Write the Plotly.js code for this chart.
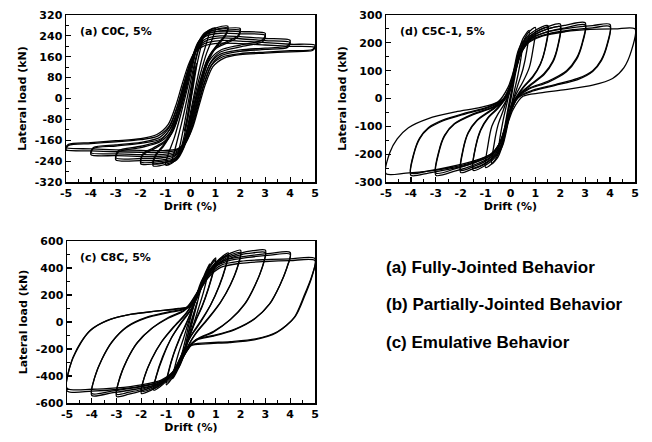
<!DOCTYPE html>
<html><head><meta charset="utf-8">
<script src="https://cdn.plot.ly/plotly-3.0.1.min.js"></script>
<style>html,body{margin:0;padding:0;background:#fff}#chart{width:652px;height:442px}</style>
</head><body><div id="chart"></div>
<script>
// ---- tick values / labels ----
const driftTicks = [-5,-4,-3,-2,-1,0,1,2,3,4,5];
const driftLabels = ['-5','-4','-3','-2','-1','0','1','2','3','4','5'];
const c0cTicks = [-320,-240,-160,-80,0,80,160,240,320];
const c0cLabels = ['-320','-240','-160','-80','0','80','160','240','320'];
const c5cTicks = [-300,-200,-100,0,100,200,300];
const c5cLabels = ['-300','-200','-100','0','100','200','300'];
const c8cTicks = [-600,-400,-200,0,200,400,600];
const c8cLabels = ['-600','-400','-200','0','200','400','600'];

// ---- (a) C0C hysteresis loops: [drift %, load kN] ----
const c0c_d025 = [[-0.25,-125],[-0.15,-80],[-0.05,-20],[0.05,45],[0.15,100],[0.25,135],[0.15,85],[0.05,20],[-0.05,-45],[-0.15,-95],[-0.25,-125]];
const c0c_d05 = [[-0.5,-215],[-0.4,-170],[-0.25,-100],[-0.1,-20],[0.05,60],[0.2,140],[0.35,195],[0.5,228],[0.4,190],[0.25,125],[0.1,40],[-0.05,-40],[-0.2,-120],[-0.35,-180],[-0.5,-215]];
const c0c_d075 = [[-0.75,-243],[-0.65,-205],[-0.45,-130],[-0.25,-50],[-0.05,40],[0.15,130],[0.35,200],[0.55,238],[0.75,255],[0.65,215],[0.45,150],[0.25,65],[0.05,-30],[-0.15,-120],[-0.35,-190],[-0.55,-230],[-0.75,-243]];
const c0c_d1 = [[-1,-255],[-0.9,-215],[-0.65,-150],[-0.4,-65],[-0.15,30],[0.05,110],[0.25,190],[0.5,240],[0.75,262],[1,270],[0.9,235],[0.65,175],[0.4,95],[0.15,0],[-0.05,-90],[-0.25,-170],[-0.5,-225],[-0.75,-248],[-1,-255]];
const c0c_d15 = [[-1.5,-258],[-1.4,-220],[-1.1,-185],[-0.75,-130],[-0.45,-50],[-0.2,40],[0,120],[0.25,200],[0.55,250],[1,270],[1.5,277],[1.4,245],[1.1,210],[0.75,160],[0.45,80],[0.2,-10],[0,-100],[-0.25,-185],[-0.55,-235],[-1,-252],[-1.5,-258]];
const c0c_d15b = [[-1.5,-250],[-1.4,-215],[-1.1,-180],[-0.7,-125],[-0.4,-45],[-0.15,45],[0.05,125],[0.3,205],[0.6,248],[1,264],[1.5,270],[1.4,240],[1.1,205],[0.7,152],[0.4,70],[0.15,-20],[-0.05,-110],[-0.3,-190],[-0.6,-232],[-1,-246],[-1.5,-250]];
const c0c_d2 = [[-2,-250],[-1.9,-215],[-1.5,-195],[-1,-165],[-0.65,-110],[-0.4,-30],[-0.15,60],[0.1,150],[0.35,220],[0.7,255],[1.2,266],[2,268],[1.9,240],[1.5,220],[1,195],[0.65,145],[0.4,70],[0.15,-20],[-0.1,-110],[-0.35,-190],[-0.7,-235],[-1.2,-247],[-2,-250]];
const c0c_d2b = [[-2,-243],[-1.9,-210],[-1.5,-190],[-1,-160],[-0.7,-105],[-0.45,-25],[-0.2,65],[0.05,150],[0.3,215],[0.65,248],[1.2,259],[2,261],[1.9,235],[1.5,214],[1,190],[0.7,140],[0.45,62],[0.2,-28],[-0.05,-115],[-0.3,-192],[-0.65,-230],[-1.2,-241],[-2,-243]];
const c0c_d3 = [[-3,-235],[-2.9,-205],[-2,-188],[-1.2,-165],[-0.75,-120],[-0.45,-45],[-0.2,45],[0.05,135],[0.3,205],[0.65,245],[1.2,258],[2,256],[3,250],[2.9,225],[2,205],[1.2,185],[0.75,145],[0.45,70],[0.2,-15],[-0.05,-105],[-0.3,-180],[-0.65,-222],[-1.2,-236],[-2,-238],[-3,-235]];
const c0c_d3b = [[-3,-228],[-2.9,-200],[-2,-183],[-1.2,-160],[-0.8,-112],[-0.5,-40],[-0.25,50],[0,135],[0.25,200],[0.6,238],[1.2,250],[2,248],[3,242],[2.9,218],[2,198],[1.2,178],[0.8,138],[0.5,62],[0.25,-25],[0,-110],[-0.25,-178],[-0.6,-215],[-1.2,-228],[-2,-230],[-3,-228]];
const c0c_d4 = [[-4,-215],[-3.9,-192],[-3,-182],[-2,-172],[-1.2,-155],[-0.8,-115],[-0.5,-45],[-0.25,40],[0,125],[0.25,190],[0.6,228],[1.2,240],[2,237],[3,230],[4,223],[3.9,202],[3,193],[2,186],[1.2,170],[0.8,135],[0.5,65],[0.25,-20],[0,-110],[-0.25,-175],[-0.6,-210],[-1.2,-222],[-2,-222],[-3,-219],[-4,-215]];
const c0c_d4b = [[-4,-208],[-3.9,-188],[-3,-178],[-2,-168],[-1.25,-150],[-0.85,-110],[-0.55,-40],[-0.3,45],[-0.05,125],[0.2,185],[0.6,220],[1.2,232],[2,229],[3,222],[4,215],[3.9,196],[3,188],[2,181],[1.25,165],[0.85,130],[0.55,55],[0.3,-30],[0.05,-115],[-0.2,-172],[-0.6,-205],[-1.2,-215],[-2,-215],[-3,-212],[-4,-208]];
const c0c_d5 = [[-5,-196],[-4.9,-180],[-4,-173],[-3,-166],[-2,-158],[-1.3,-143],[-0.85,-105],[-0.55,-35],[-0.3,45],[-0.05,125],[0.2,180],[0.55,210],[1.2,222],[2,220],[3,214],[4,208],[5,204],[4.9,188],[4,183],[3,178],[2,172],[1.3,160],[0.85,128],[0.55,60],[0.3,-20],[0.05,-105],[-0.2,-165],[-0.55,-198],[-1.2,-207],[-2,-206],[-3,-204],[-4,-201],[-5,-196]];
const c0c_d5b = [[-5,-188],[-4.9,-176],[-4,-169],[-3,-162],[-2,-154],[-1.35,-138],[-0.9,-100],[-0.6,-30],[-0.35,50],[-0.1,125],[0.15,175],[0.5,200],[1.2,212],[2,210],[3,205],[4,200],[5,196],[4.9,184],[4,179],[3,174],[2,168],[1.35,155],[0.9,122],[0.6,55],[0.35,-25],[0.1,-108],[-0.15,-160],[-0.5,-192],[-1.2,-200],[-2,-199],[-3,-197],[-4,-193],[-5,-188]];

// ---- (d) C5C-1 hysteresis loops ----
const c5c_d025 = [[-0.25,-110],[-0.15,-60],[0,10],[0.15,75],[0.25,115],[0.15,65],[0,-10],[-0.15,-70],[-0.25,-110]];
const c5c_d05 = [[-0.5,-200],[-0.42,-140],[-0.3,-80],[-0.15,-20],[0,40],[0.15,110],[0.3,170],[0.5,205],[0.42,145],[0.3,85],[0.15,25],[0,-40],[-0.15,-110],[-0.3,-165],[-0.5,-200]];
const c5c_d075 = [[-0.75,-235],[-0.65,-160],[-0.5,-95],[-0.3,-45],[-0.1,10],[0.1,80],[0.3,160],[0.5,215],[0.75,245],[0.65,170],[0.5,105],[0.3,50],[0.1,-10],[-0.1,-80],[-0.3,-160],[-0.5,-210],[-0.75,-235]];
const c5c_d1 = [[-1,-248],[-0.9,-165],[-0.75,-100],[-0.5,-55],[-0.25,-20],[0,30],[0.2,110],[0.45,190],[0.7,235],[1,255],[0.9,175],[0.75,110],[0.5,60],[0.25,20],[0,-30],[-0.2,-110],[-0.45,-190],[-0.7,-230],[-1,-248]];
const c5c_d15 = [[-1.5,-258],[-1.4,-175],[-1.2,-115],[-0.9,-70],[-0.5,-35],[-0.2,0],[0.05,60],[0.3,150],[0.6,215],[1,245],[1.5,262],[1.4,185],[1.2,125],[0.9,80],[0.5,40],[0.2,0],[-0.05,-60],[-0.3,-150],[-0.6,-210],[-1,-240],[-1.5,-258]];
const c5c_d15b = [[-1.5,-250],[-1.4,-172],[-1.2,-112],[-0.9,-68],[-0.5,-32],[-0.2,5],[0.05,65],[0.3,152],[0.6,210],[1,238],[1.5,255],[1.4,180],[1.2,122],[0.9,77],[0.5,37],[0.2,-5],[-0.05,-65],[-0.3,-150],[-0.6,-205],[-1,-234],[-1.5,-250]];
const c5c_d2 = [[-2,-266],[-1.9,-185],[-1.7,-125],[-1.35,-80],[-0.8,-45],[-0.35,-15],[0,40],[0.3,140],[0.6,205],[1,238],[1.5,258],[2,268],[1.9,190],[1.7,135],[1.35,90],[0.8,50],[0.35,15],[0,-40],[-0.3,-135],[-0.6,-200],[-1,-232],[-1.5,-252],[-2,-266]];
const c5c_d2b = [[-2,-258],[-1.9,-180],[-1.7,-122],[-1.35,-78],[-0.8,-42],[-0.35,-12],[0,45],[0.3,140],[0.6,200],[1,230],[1.5,250],[2,258],[1.9,185],[1.7,130],[1.35,86],[0.8,47],[0.35,12],[0,-45],[-0.3,-135],[-0.6,-195],[-1,-225],[-1.5,-245],[-2,-258]];
const c5c_d3 = [[-3,-276],[-2.88,-195],[-2.65,-135],[-2.25,-92],[-1.5,-58],[-0.7,-32],[-0.2,0],[0.15,80],[0.45,170],[0.8,220],[1.5,250],[2.2,263],[3,272],[2.88,200],[2.65,145],[2.25,100],[1.5,62],[0.7,35],[0.2,0],[-0.15,-80],[-0.45,-165],[-0.8,-210],[-1.5,-240],[-2.2,-260],[-3,-276]];
const c5c_d3b = [[-3,-268],[-2.88,-190],[-2.65,-132],[-2.25,-90],[-1.5,-55],[-0.7,-30],[-0.2,5],[0.15,85],[0.45,170],[0.8,212],[1.5,240],[2.2,254],[3,264],[2.88,195],[2.65,140],[2.25,96],[1.5,58],[0.7,32],[0.2,-5],[-0.15,-85],[-0.45,-165],[-0.8,-205],[-1.5,-232],[-2.2,-252],[-3,-268]];
const c5c_d4 = [[-4,-276],[-3.88,-200],[-3.65,-145],[-3.3,-108],[-2.7,-80],[-1.8,-55],[-0.9,-33],[-0.3,-5],[0.1,70],[0.4,160],[0.8,215],[1.5,240],[2.5,255],[3.3,262],[4,266],[3.88,195],[3.65,140],[3.3,100],[2.7,72],[1.8,50],[0.9,30],[0.3,5],[-0.1,-70],[-0.4,-155],[-0.8,-205],[-1.5,-232],[-2.5,-255],[-3.3,-268],[-4,-276]];
const c5c_d4b = [[-4,-268],[-3.88,-196],[-3.65,-142],[-3.3,-105],[-2.7,-77],[-1.8,-52],[-0.9,-30],[-0.3,-2],[0.1,72],[0.4,158],[0.8,208],[1.5,232],[2.5,247],[3.3,254],[4,258],[3.88,190],[3.65,136],[3.3,97],[2.7,68],[1.8,47],[0.9,27],[0.3,2],[-0.1,-72],[-0.4,-155],[-0.8,-200],[-1.5,-225],[-2.5,-247],[-3.3,-260],[-4,-268]];
const c5c_d5 = [[-5,-270],[-4.85,-195],[-4.55,-145],[-4.1,-105],[-3.3,-72],[-2.2,-48],[-1.2,-32],[-0.5,-12],[-0.1,40],[0.25,130],[0.65,195],[1.3,225],[2.2,240],[3.2,248],[4.2,250],[5,250],[4.85,170],[4.55,110],[4.1,72],[3.3,48],[2.2,32],[1.2,20],[0.5,8],[0.1,-40],[-0.25,-125],[-0.65,-190],[-1.3,-222],[-2.2,-245],[-3.2,-260],[-4.2,-268],[-5,-270]];

// ---- (c) C8C hysteresis loops ----
const c8c_d025 = [[-0.25,-200],[-0.15,-120],[0,-20],[0.15,80],[0.25,150],[0.15,90],[0,0],[-0.15,-110],[-0.25,-200]];
const c8c_d05 = [[-0.5,-340],[-0.4,-260],[-0.25,-150],[-0.1,-30],[0.05,80],[0.2,180],[0.35,270],[0.5,330],[0.4,250],[0.25,140],[0.1,30],[-0.05,-80],[-0.2,-190],[-0.35,-280],[-0.5,-340]];
const c8c_d075 = [[-0.75,-420],[-0.65,-330],[-0.5,-230],[-0.3,-120],[-0.1,0],[0.1,110],[0.3,230],[0.5,330],[0.75,430],[0.65,330],[0.5,220],[0.3,100],[0.1,-20],[-0.1,-130],[-0.3,-240],[-0.5,-340],[-0.75,-420]];
const c8c_d1 = [[-1,-465],[-0.9,-370],[-0.7,-240],[-0.45,-120],[-0.2,-20],[0,70],[0.2,170],[0.45,300],[0.7,400],[1,475],[0.9,380],[0.7,250],[0.45,120],[0.2,20],[0,-70],[-0.2,-170],[-0.45,-300],[-0.7,-400],[-1,-465]];
const c8c_d1b = [[-1,-450],[-0.9,-360],[-0.7,-235],[-0.45,-115],[-0.2,-12],[0,75],[0.2,172],[0.45,295],[0.7,390],[1,460],[0.9,372],[0.7,245],[0.45,115],[0.2,12],[0,-78],[-0.2,-175],[-0.45,-298],[-0.7,-392],[-1,-450]];
const c8c_d15 = [[-1.5,-505],[-1.4,-400],[-1.15,-260],[-0.8,-120],[-0.4,-10],[0,90],[0.3,200],[0.6,330],[1,440],[1.5,512],[1.4,410],[1.15,270],[0.8,130],[0.4,10],[0,-100],[-0.3,-210],[-0.6,-330],[-1,-440],[-1.5,-505]];
const c8c_d15b = [[-1.5,-490],[-1.38,-392],[-1.12,-255],[-0.78,-115],[-0.4,-5],[0,95],[0.3,202],[0.6,325],[1,430],[1.5,495],[1.38,400],[1.12,262],[0.78,122],[0.4,2],[0,-105],[-0.3,-212],[-0.6,-328],[-1,-432],[-1.5,-490]];
const c8c_d2 = [[-2,-530],[-1.9,-420],[-1.6,-280],[-1.2,-150],[-0.7,-40],[-0.2,60],[0.1,150],[0.4,270],[0.75,390],[1.2,470],[1.6,510],[2,532],[1.9,420],[1.6,280],[1.2,150],[0.7,30],[0.2,-80],[-0.1,-170],[-0.4,-280],[-0.75,-390],[-1.2,-460],[-1.6,-505],[-2,-530]];
const c8c_d2b = [[-2,-515],[-1.88,-410],[-1.58,-272],[-1.18,-145],[-0.7,-35],[-0.2,65],[0.1,155],[0.4,272],[0.75,385],[1.2,460],[1.6,498],[2,515],[1.88,412],[1.58,272],[1.18,142],[0.7,25],[0.2,-85],[-0.1,-172],[-0.4,-280],[-0.75,-385],[-1.2,-452],[-1.6,-495],[-2,-515]];
const c8c_d3 = [[-3,-552],[-2.9,-430],[-2.6,-290],[-2.2,-160],[-1.6,-50],[-0.9,30],[-0.3,80],[0.1,150],[0.4,260],[0.8,380],[1.3,460],[2,510],[2.5,528],[3,532],[2.9,420],[2.6,280],[2.2,140],[1.6,20],[0.9,-70],[0.3,-120],[-0.1,-180],[-0.4,-290],[-0.8,-400],[-1.3,-460],[-2,-510],[-2.5,-535],[-3,-552]];
const c8c_d3b = [[-3,-535],[-2.88,-420],[-2.58,-280],[-2.15,-150],[-1.55,-42],[-0.9,35],[-0.3,85],[0.1,155],[0.4,262],[0.8,372],[1.3,450],[2,498],[2.5,512],[3,515],[2.88,410],[2.58,270],[2.15,130],[1.55,12],[0.9,-75],[0.3,-125],[-0.1,-185],[-0.4,-290],[-0.8,-395],[-1.3,-452],[-2,-500],[-2.5,-520],[-3,-535]];
const c8c_d4 = [[-4,-545],[-3.9,-420],[-3.6,-280],[-3.2,-150],[-2.6,-40],[-1.8,30],[-0.9,70],[-0.2,100],[0.2,200],[0.5,300],[0.9,410],[1.5,465],[2.3,490],[3.2,508],[4,515],[3.9,420],[3.6,280],[3.2,140],[2.6,30],[1.8,-50],[0.9,-100],[0.2,-130],[-0.2,-220],[-0.5,-320],[-0.9,-420],[-1.5,-470],[-2.3,-500],[-3.2,-525],[-4,-545]];
const c8c_d4b = [[-4,-530],[-3.88,-410],[-3.58,-270],[-3.15,-140],[-2.55,-30],[-1.75,38],[-0.9,75],[-0.2,105],[0.2,205],[0.5,300],[0.9,400],[1.5,452],[2.3,478],[3.2,495],[4,502],[3.88,410],[3.58,270],[3.15,130],[2.55,20],[1.75,-58],[0.9,-105],[0.2,-135],[-0.2,-225],[-0.5,-320],[-0.9,-410],[-1.5,-458],[-2.3,-488],[-3.2,-512],[-4,-530]];
const c8c_d5 = [[-5,-510],[-4.9,-340],[-4.6,-200],[-4.1,-70],[-3.4,10],[-2.5,55],[-1.5,78],[-0.5,98],[0,115],[0.3,220],[0.7,340],[1.2,420],[2,450],[3,462],[4,468],[5,470],[4.9,350],[4.6,200],[4.2,40],[3.5,-70],[2.6,-125],[1.6,-145],[0.6,-155],[0,-170],[-0.3,-250],[-0.7,-370],[-1.2,-440],[-2,-475],[-3,-500],[-4,-512],[-5,-510]];
const c8c_d5b = [[-5,-490],[-4.88,-330],[-4.55,-190],[-4.05,-60],[-3.3,15],[-2.4,58],[-1.4,80],[-0.5,100],[0,118],[0.3,215],[0.7,330],[1.2,405],[2,435],[3,448],[4,455],[5,455],[4.88,345],[4.55,190],[4.15,30],[3.45,-80],[2.55,-132],[1.55,-152],[0.6,-162],[0,-176],[-0.3,-255],[-0.7,-365],[-1.2,-430],[-2,-465],[-3,-488],[-4,-498],[-5,-490]];

const panelA = [c0c_d025,c0c_d05,c0c_d075,c0c_d1,c0c_d15,c0c_d15b,c0c_d2,c0c_d2b,c0c_d3,c0c_d3b,c0c_d4,c0c_d4b,c0c_d5,c0c_d5b];
const panelD = [c5c_d025,c5c_d05,c5c_d075,c5c_d1,c5c_d15,c5c_d15b,c5c_d2,c5c_d2b,c5c_d3,c5c_d3b,c5c_d4,c5c_d4b,c5c_d5];
const panelC = [c8c_d025,c8c_d05,c8c_d075,c8c_d1,c8c_d1b,c8c_d15,c8c_d15b,c8c_d2,c8c_d2b,c8c_d3,c8c_d3b,c8c_d4,c8c_d4b,c8c_d5,c8c_d5b];

// ---- build traces ----
const traces = [];
function addLoops(loops, xa, ya){
  loops.forEach(l => traces.push({
    type:'scatter', mode:'lines', xaxis:xa, yaxis:ya, hoverinfo:'skip', showlegend:false,
    x:l.map(p=>p[0]), y:l.map(p=>p[1]),
    line:{color:'#000', width:1.3, shape:'spline', smoothing:0.8}
  }));
}
addLoops(panelA,'x','y');
addLoops(panelD,'x2','y2');
addLoops(panelC,'x3','y3');

// ---- layout ----
const W=652, H=442;
const fx = p => p/W, fy = p => 1 - p/H;
const tickFont = {family:'DejaVu Sans, Arial, sans-serif', size:11, color:'#000', weight:'bold'};
function xAxis(anchor, x0, x1){
  return {anchor:anchor, domain:[fx(x0),fx(x1)], range:[-5,5], tickmode:'array', tickvals:driftTicks, ticktext:driftLabels,
    ticks:'inside', ticklen:5, tickwidth:1.2, tickcolor:'#000',
    minor:{tickmode:'linear', tick0:0, dtick:0.5, ticks:'inside', ticklen:3, tickwidth:1, tickcolor:'#000'},
    showline:true, linewidth:1.5, linecolor:'#000', mirror:true, showgrid:false, zeroline:false,
    tickfont:tickFont, title:{text:'Drift (%)', font:tickFont, standoff:1}};
}
function yAxis(anchor, y0, y1, rng, tv, tt, minorStep){
  return {anchor:anchor, domain:[fy(y1),fy(y0)], range:rng, tickmode:'array', tickvals:tv, ticktext:tt,
    ticks:'inside', ticklen:5, tickwidth:1.2, tickcolor:'#000',
    minor:{tickmode:'linear', tick0:0, dtick:minorStep, ticks:'inside', ticklen:3, tickwidth:1, tickcolor:'#000'},
    showline:true, linewidth:1.5, linecolor:'#000', mirror:true, showgrid:false, zeroline:false,
    tickfont:tickFont, title:{text:'Lateral load (kN)', font:tickFont, standoff:6}};
}
const noteFont = {family:'Liberation Sans, Arial, sans-serif', size:17, color:'#000', weight:'bold'};
const labelFont = {family:'DejaVu Sans, Arial, sans-serif', size:11, color:'#000', weight:'bold'};
const layout = {
  width:W, height:H, margin:{l:0,r:0,t:0,b:0}, paper_bgcolor:'#fff', plot_bgcolor:'#fff', showlegend:false,
  xaxis: xAxis('y', 66, 315),
  yaxis: yAxis('x', 15, 182, [-320,320], c0cTicks, c0cLabels, 40),
  xaxis2: xAxis('y2', 386, 635),
  yaxis2: yAxis('x2', 15, 182, [-300,300], c5cTicks, c5cLabels, 50),
  xaxis3: xAxis('y3', 67, 315),
  yaxis3: yAxis('x3', 241, 403, [-600,600], c8cTicks, c8cLabels, 100),
  annotations:[
    {xref:'paper', yref:'paper', x:fx(78), y:fy(32), xanchor:'left', yanchor:'middle', text:'(a) C0C, 5%', showarrow:false, font:labelFont},
    {xref:'paper', yref:'paper', x:fx(398), y:fy(32), xanchor:'left', yanchor:'middle', text:'(d) C5C-1, 5%', showarrow:false, font:labelFont},
    {xref:'paper', yref:'paper', x:fx(78), y:fy(257), xanchor:'left', yanchor:'middle', text:'(c) C8C, 5%', showarrow:false, font:labelFont},
    {xref:'paper', yref:'paper', x:fx(384), y:fy(267), xanchor:'left', yanchor:'middle', text:'(a) Fully-Jointed Behavior', showarrow:false, font:noteFont},
    {xref:'paper', yref:'paper', x:fx(384), y:fy(304), xanchor:'left', yanchor:'middle', text:'(b) Partially-Jointed Behavior', showarrow:false, font:noteFont},
    {xref:'paper', yref:'paper', x:fx(384), y:fy(342), xanchor:'left', yanchor:'middle', text:'(c) Emulative Behavior', showarrow:false, font:noteFont}
  ]
};
Plotly.newPlot('chart', traces, layout, {staticPlot:true, displayModeBar:false});
</script></body></html>
